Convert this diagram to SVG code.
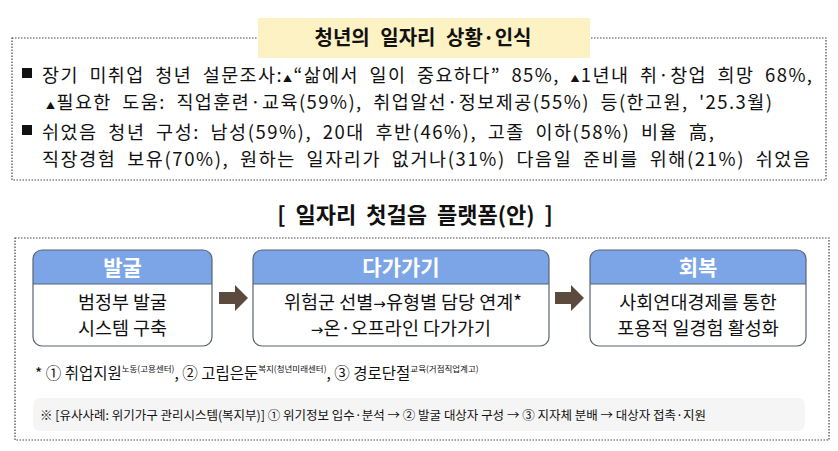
<svg xmlns="http://www.w3.org/2000/svg" width="838" height="451" viewBox="0 0 838 451">
<style>
text{font-family:"Noto Sans CJK KR","Noto Sans",sans-serif;fill:#111}
.frame{fill:#fff;stroke:#444;stroke-width:1.2;stroke-dasharray:1.5 1.5}
.body{font-size:18.5px;word-spacing:5px}
.card{fill:none;stroke:#5a6472;stroke-width:1.2}
.head{fill:#7ba5e6}
.ht{font-size:21px;font-weight:700;fill:#fff;text-anchor:middle}
.ct{font-size:18.5px;text-anchor:middle}
.ar{font-family:"DejaVu Sans",sans-serif;font-size:15px}
.arrow{fill:#5b4a3d}
.fn{font-size:15.5px}
.sup{font-size:8.5px}
.note{font-size:12.5px}
</style>
<defs>
<clipPath id="c1"><rect x="33" y="250" width="179" height="96" rx="9"/></clipPath>
<clipPath id="c2"><rect x="253" y="250" width="296" height="96" rx="9"/></clipPath>
<clipPath id="c3"><rect x="590" y="250" width="216" height="96" rx="9"/></clipPath>
</defs>

<g id="status-box">
<rect class="frame" x="12" y="38" width="814" height="142"/>
<rect x="258" y="18" width="332" height="40" fill="#fdf2c4"/>
<text x="423" y="45" font-size="20" font-weight="700" text-anchor="middle" word-spacing="6">청년의 일자리 상황·인식</text>
<rect x="22" y="68" width="10" height="10" fill="#111"/>
<text class="body" x="42" y="81.5" textLength="770" lengthAdjust="spacing">장기 미취업 청년 설문조사:<tspan font-size="9">▲</tspan>“삶에서 일이 중요하다” 85%, <tspan font-size="9">▲</tspan>1년내 취·창업 희망 68%,</text>
<text class="body" x="46" y="108.5" textLength="726" lengthAdjust="spacing"><tspan font-size="9">▲</tspan>필요한 도움: 직업훈련·교육(59%), 취업알선·정보제공(55%) 등(한고원, '25.3월)</text>
<rect x="22" y="125" width="10" height="10" fill="#111"/>
<text class="body" x="42" y="138.5" textLength="672" lengthAdjust="spacing">쉬었음 청년 구성: 남성(59%), 20대 후반(46%), 고졸 이하(58%) 비율 高,</text>
<text class="body" x="42" y="165.5" textLength="768" lengthAdjust="spacing">직장경험 보유(70%), 원하는 일자리가 없거나(31%) 다음일 준비를 위해(21%) 쉬었음</text>
</g>

<text id="platform-title" x="415" y="223" font-size="22" font-weight="700" text-anchor="middle" word-spacing="5">[ 일자리 첫걸음 플랫폼(안) ]</text>

<g id="platform-box">
<rect class="frame" x="15" y="238" width="814" height="202"/>
</g>

<g id="node-discover">
<g clip-path="url(#c1)"><rect x="33" y="250" width="179" height="96" fill="#fff"/><rect class="head" x="33" y="250" width="179" height="34"/></g>
<line x1="33" y1="284" x2="212" y2="284" stroke="#5a6472" stroke-width="1"/>
<rect class="card" x="33" y="250" width="179" height="96" rx="9"/>
<text class="ht" x="122.5" y="274.5">발굴</text>
<text class="ct" x="122.5" y="308.5">범정부 발굴</text>
<text class="ct" x="122.5" y="335">시스템 구축</text>
</g>

<g id="node-reach">
<g clip-path="url(#c2)"><rect x="253" y="250" width="296" height="96" fill="#fff"/><rect class="head" x="253" y="250" width="296" height="34"/></g>
<line x1="253" y1="284" x2="549" y2="284" stroke="#5a6472" stroke-width="1"/>
<rect class="card" x="253" y="250" width="296" height="96" rx="9"/>
<text class="ht" x="401" y="274.5">다가가기</text>
<text class="ct" x="403" y="308.5">위험군 선별<tspan class="ar">→</tspan>유형별 담당 연계*</text>
<text class="ct" x="401" y="335"><tspan class="ar">→</tspan>온·오프라인 다가가기</text>
</g>

<g id="node-recover">
<g clip-path="url(#c3)"><rect x="590" y="250" width="216" height="96" fill="#fff"/><rect class="head" x="590" y="250" width="216" height="34"/></g>
<line x1="590" y1="284" x2="806" y2="284" stroke="#5a6472" stroke-width="1"/>
<rect class="card" x="590" y="250" width="216" height="96" rx="9"/>
<text class="ht" x="698" y="274.5">회복</text>
<text class="ct" x="698" y="308.5">사회연대경제를 통한</text>
<text class="ct" x="698" y="335">포용적 일경험 활성화</text>
</g>

<g id="connectors">
<polygon class="arrow" points="219,292 235,292 235,285 248,298 235,311 235,304 219,304"/>
<polygon class="arrow" points="555,292 571,292 571,285 584,298 571,311 571,304 555,304"/>
</g>

<g id="footnote">
<text class="fn" x="35" y="379">* ① 취업지원<tspan class="sup" dy="-7">노동(고용센터)</tspan><tspan dy="7">, ② 고립은둔</tspan><tspan class="sup" dy="-7">복지(청년미래센터)</tspan><tspan dy="7">, ③ 경로단절</tspan><tspan class="sup" dy="-7">교육(거점직업계고)</tspan></text>
</g>

<g id="note">
<rect x="33" y="398" width="772" height="33" rx="7" fill="#f5f5f5"/>
<text class="note" x="40" y="420" textLength="666" lengthAdjust="spacing">※ [유사사례: 위기가구 관리시스템(복지부)]  ① 위기정보 입수·분석 → ② 발굴 대상자 구성 → ③ 지자체 분배 → 대상자 접촉·지원</text>
</g>
</svg>
